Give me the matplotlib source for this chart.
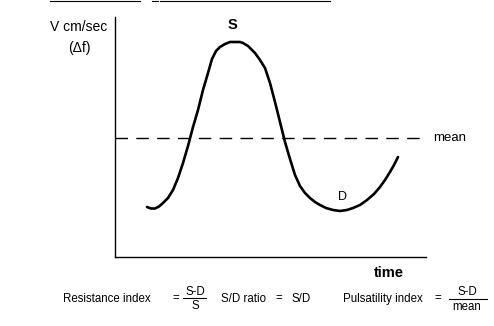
import numpy as np
import matplotlib.pyplot as plt
from matplotlib.lines import Line2D

plt.rcParams['font.family'] = ['Liberation Sans', 'DejaVu Sans']

# waveform (time, velocity in arbitrary units)
time = [32, 36, 40, 44, 48, 53, 58, 63, 68, 73, 78, 83, 88, 93, 97,
        101, 105, 110, 115, 120, 125, 128, 133, 140, 145, 150, 155, 160, 165, 170,
        175, 180, 185, 190, 195, 200, 205, 211, 218, 225, 232, 238, 245, 252, 259,
        265, 270, 275, 279, 283]
velocity = [50, 48.5, 48.5, 50.5, 54, 59, 67, 79, 94, 111, 130, 147, 167, 184, 198,
            206, 210, 213, 215, 215, 215, 214, 211, 204, 197, 189, 174, 155, 135, 115,
            98, 82, 71, 64, 59, 55, 52, 49, 47, 46, 47, 49, 52, 57, 63,
            70, 77, 85, 92, 100]
mean_level = 119
S_pos = (117, 232)
D_pos = (227, 60)

W, H = 494, 326
fig = plt.figure(figsize=(W / 100, H / 100), dpi=100)
ax = fig.add_axes([115 / W, 1 - 257 / H, 311 / W, 240 / H])
ax.set_xlim(0, 311)
ax.set_ylim(0, 240)

ax.plot(time, velocity, color='black', lw=1.9, solid_capstyle='round',
        solid_joinstyle='round')
ax.axhline(mean_level, xmax=307 / 311, color='black', lw=1.0, dashes=(9, 6))

for side in ['top', 'right']:
    ax.spines[side].set_visible(False)
for side in ['left', 'bottom']:
    ax.spines[side].set_linewidth(1.0)
ax.set_xticks([])
ax.set_yticks([])

ax.text(*S_pos, 'S', fontsize=10.5, fontweight='bold', ha='center', va='center')
ax.text(*D_pos, 'D', fontsize=9, ha='center', va='center')


def px(x, y):
    return x / W, 1 - y / H


fig.text(*px(79, 27), 'V cm/sec', fontsize=10, ha='center', va='center')
fig.text(*px(79, 48), '(\u0394f)', fontsize=10, ha='center', va='center')
fig.text(*px(450, 138), 'mean', fontsize=9.5, ha='center', va='center')
fig.text(*px(389, 273), 'time', fontsize=10.5, fontweight='bold', ha='center', va='center')

fs = 8.3
fig.text(*px(63, 299), 'Resistance index', fontsize=fs, ha='left', va='center')
fig.text(*px(176, 298), '=', fontsize=fs, ha='center', va='center')
fig.text(*px(195, 292), 'S-D', fontsize=fs, ha='center', va='center')
fig.text(*px(195, 306), 'S', fontsize=fs, ha='center', va='center')
fig.text(*px(221, 299), 'S/D ratio', fontsize=fs, ha='left', va='center')
fig.text(*px(279, 298), '=', fontsize=fs, ha='center', va='center')
fig.text(*px(291, 299), 'S/D', fontsize=fs, ha='left', va='center')
fig.text(*px(343, 299), 'Pulsatility index', fontsize=fs, ha='left', va='center')
fig.text(*px(438, 298), '=', fontsize=fs, ha='center', va='center')
fig.text(*px(467, 292), 'S-D', fontsize=fs, ha='center', va='center')
fig.text(*px(467, 307), 'mean', fontsize=fs, ha='center', va='center')

for x0, x1, y in [(183, 206, 298), (449, 487, 299), (50, 140, 1), (152, 158, 1), (160, 330, 1)]:
    fig.add_artist(Line2D([x0 / W, x1 / W], [1 - y / H, 1 - y / H], color='black', lw=0.8))

fig.savefig('out.png', dpi=100)
